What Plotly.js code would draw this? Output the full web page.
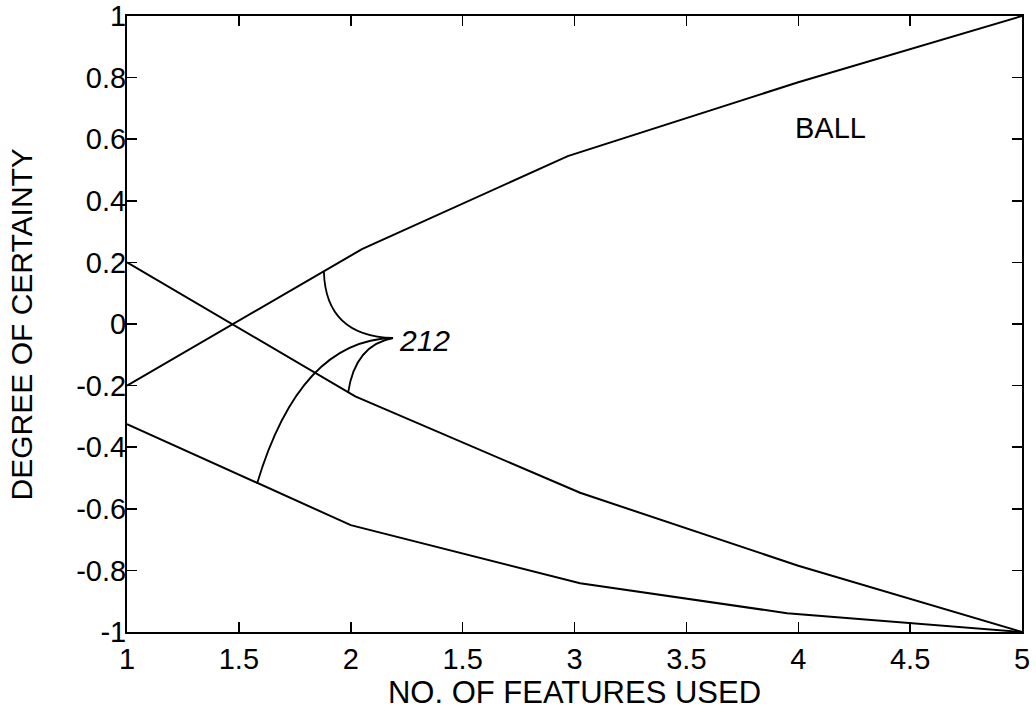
<!DOCTYPE html>
<html>
<head>
<meta charset="utf-8">
<script src="https://cdn.plot.ly/plotly-3.0.1.min.js"></script>
<style>html,body{margin:0;padding:0;background:#fff;}#chart{width:1036px;height:715px;}</style>
</head>
<body>
<div id="chart"></div>
<script>
// Series
var upperX = [1, 2.05, 2.97, 4, 5];
var upperY = [-0.2, 0.243, 0.545, 0.785, 1];
var middleX = [1, 2.02, 3.025, 4, 5];
var middleY = [0.2, -0.235, -0.548, -0.785, -1];
var lowerX = [1, 2, 3.025, 3.95, 5];
var lowerY = [-0.325, -0.653, -0.842, -0.939, -1];

// Axis ticks
var xTickVals = [1, 1.5, 2, 2.5, 3, 3.5, 4, 4.5, 5];
var xTickText = ["1", "1.5", "2", "1.5", "3", "3.5", "4", "4.5", "5"];
var yTickVals = [-1, -0.8, -0.6, -0.4, -0.2, 0, 0.2, 0.4, 0.6, 0.8, 1];
var yTickText = ["-1", "-0.8", "-0.6", "-0.4", "-0.2", "0", "0.2", "0.4", "0.6", "0.8", "1"];

// Leader curves for label "212": [startX, startY, ctrlX, ctrlY] ending at the tip
var leaderTip = [2.189, -0.0455];
var leaderStarts = [
  [1.880, 0.169, 1.889, -0.039],
  [1.988, -0.224, 2.019, -0.068],
  [1.581, -0.519, 1.773, -0.052]
];
var labelRef = {text: "212", x: 2.205, y: -0.052};
var labelBall = {text: "BALL", x: 4.144, y: 0.636};
var xTitle = "NO. OF FEATURES USED";
var yTitle = "DEGREE OF CERTAINTY";

var FONT = "Liberation Sans, Arial, Helvetica, sans-serif";
var lineStyle = {color: "#000", width: 2};

var traces = [
  {x: upperX, y: upperY, mode: "lines", line: lineStyle, hoverinfo: "skip"},
  {x: middleX, y: middleY, mode: "lines", line: lineStyle, hoverinfo: "skip"},
  {x: lowerX, y: lowerY, mode: "lines", line: lineStyle, hoverinfo: "skip"}
];

var shapes = leaderStarts.map(function (s) {
  return {
    type: "path", xref: "x", yref: "y",
    path: "M " + s[0] + "," + s[1] + " Q " + s[2] + "," + s[3] + " " + leaderTip[0] + "," + leaderTip[1],
    line: {color: "#000", width: 1.8}
  };
});

var axisCommon = {
  showgrid: false, zeroline: false,
  showline: true, linecolor: "#000", linewidth: 2,
  mirror: "ticks", ticks: "inside", ticklen: 10, tickwidth: 1.5, tickcolor: "#000",
  tickfont: {family: FONT, size: 29, color: "#000"}
};

var layout = {
  width: 1036, height: 715,
  margin: {l: 127, r: 14, t: 16, b: 83, pad: 0},
  paper_bgcolor: "#fff", plot_bgcolor: "#fff",
  showlegend: false,
  xaxis: Object.assign({}, axisCommon, {
    range: [1, 5], tickmode: "array", tickvals: xTickVals, ticktext: xTickText,
    ticklabelstandoff: 0,
    title: {text: xTitle, font: {family: FONT, size: 31, color: "#000"}, standoff: 2}
  }),
  yaxis: Object.assign({}, axisCommon, {
    range: [-1, 1], tickmode: "array", tickvals: yTickVals, ticktext: yTickText,
    ticklabelstandoff: -7
  }),
  shapes: shapes,
  annotations: [
    {x: -0.118, y: 0.5, xref: "paper", yref: "paper", text: yTitle, textangle: -90,
     showarrow: false, xanchor: "center", yanchor: "middle",
     font: {family: FONT, size: 30, color: "#000"}},
    {x: labelRef.x, y: labelRef.y, xref: "x", yref: "y", text: "<i>" + labelRef.text + "</i>",
     showarrow: false, xanchor: "left", yanchor: "middle",
     font: {family: FONT, size: 30, color: "#000"}},
    {x: labelBall.x, y: labelBall.y, xref: "x", yref: "y", text: labelBall.text,
     showarrow: false, xanchor: "center", yanchor: "middle",
     font: {family: FONT, size: 29, color: "#000"}}
  ]
};

Plotly.newPlot("chart", traces, layout, {staticPlot: true, displayModeBar: false});
</script>
</body>
</html>
